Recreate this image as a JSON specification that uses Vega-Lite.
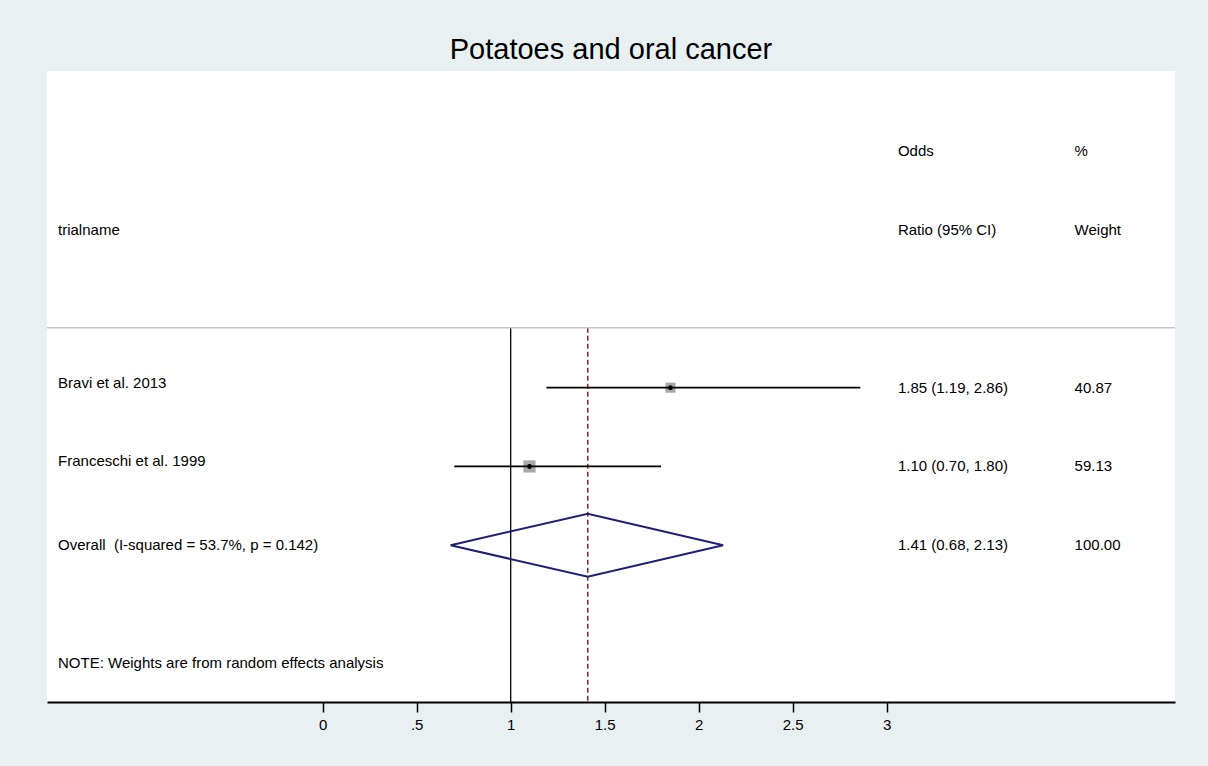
{
  "$schema": "https://vega.github.io/schema/vega-lite/v6.json",
  "autosize": "none",
  "width": 1128,
  "height": 631,
  "padding": {"left": 47, "top": 71, "right": 33, "bottom": 64},
  "background": "#e8f0f2",
  "title": {
    "text": "Potatoes and oral cancer",
    "font": "Liberation Sans",
    "fontSize": 29,
    "fontWeight": "normal",
    "color": "#000000",
    "anchor": "middle",
    "baseline": "alphabetic",
    "offset": 11,
    "dy": 28
  },
  "config": {
    "view": {"fill": "#ffffff", "stroke": null},
    "axis": {
      "domainColor": "#000000",
      "domainWidth": 2,
      "tickColor": "#000000",
      "tickWidth": 1.5,
      "tickSize": 10,
      "labelFont": "Liberation Sans",
      "labelFontSize": 15,
      "labelColor": "#000000",
      "labelPadding": 5,
      "grid": false
    },
    "text": {"font": "Liberation Sans", "fontSize": 15, "color": "#000000"}
  },
  "datasets": {
    "rows": [
      {"type": "study", "label": "Bravi et al. 2013", "or": 1.85, "lo": 1.19, "hi": 2.86, "weight": 40.87, "row": 4, "ci": "1.85 (1.19, 2.86)"},
      {"type": "study", "label": "Franceschi et al. 1999", "or": 1.10, "lo": 0.70, "hi": 1.80, "weight": 59.13, "row": 5, "ci": "1.10 (0.70, 1.80)"},
      {"type": "overall", "label": "Overall\u00a0 (I-squared = 53.7%, p = 0.142)", "or": 1.41, "lo": 0.68, "hi": 2.13, "weight": 100.00, "row": 6, "ci": "1.41 (0.68, 2.13)"}
    ],
    "headers": [
      {"col": "label", "row": 2, "text": "trialname"},
      {"col": "ci", "row": 1, "text": "Odds"},
      {"col": "ci", "row": 2, "text": "Ratio (95% CI)"},
      {"col": "wt", "row": 1, "text": "%"},
      {"col": "wt", "row": 2, "text": "Weight"},
      {"col": "label", "row": 7.5, "text": "NOTE: Weights are from random effects analysis"}
    ],
    "diamond": [
      {"v": 1, "x": 0.68, "row": 6},
      {"v": 2, "x": 1.41, "row": 5.6},
      {"v": 3, "x": 2.13, "row": 6},
      {"v": 4, "x": 1.41, "row": 6.4},
      {"v": 5, "x": 0.68, "row": 6}
    ],
    "refs": [
      {"kind": "null", "x": 1},
      {"kind": "pooled", "x": 1.41}
    ]
  },
  "layer": [
    {
      "data": {"name": "refs"},
      "transform": [{"filter": "datum.kind == 'null'"}],
      "mark": {"type": "rule", "color": "#000000", "strokeWidth": 1.3},
      "encoding": {
        "x": {"field": "x", "type": "quantitative", "title": null,
              "scale": {"domain": [-1.4667, 4.534], "nice": false, "zero": false},
              "axis": {"values": [0, 0.5, 1, 1.5, 2, 2.5, 3], "labelExpr": "datum.value == 0.5 ? '.5' : format(datum.value, '~g')", "title": null}},
        "y": {"datum": 3.24, "type": "quantitative", "scale": {"domain": [-0.02, 7.99], "nice": false, "zero": false, "reverse": true}, "axis": null},
        "y2": {"datum": 7.99}
      }
    },
    {
      "data": {"name": "refs"},
      "transform": [{"filter": "datum.kind == 'pooled'"}],
      "mark": {"type": "rule", "color": "#98202e", "strokeWidth": 1.5, "strokeDash": [5, 3]},
      "encoding": {
        "x": {"field": "x", "type": "quantitative", "title": null},
        "y": {"datum": 3.24, "type": "quantitative"},
        "y2": {"datum": 7.99}
      }
    },
    {
      "data": {"values": [{"row": 3.24}]},
      "mark": {"type": "rule", "color": "#c6c6c6", "strokeWidth": 1.5},
      "encoding": {
        "y": {"field": "row", "type": "quantitative"}
      }
    },
    {
      "data": {"name": "rows"},
      "transform": [{"filter": "datum.type == 'study'"}],
      "mark": {"type": "point", "shape": "square", "filled": true, "color": "#a8a8a8", "opacity": 1},
      "encoding": {
        "x": {"field": "or", "type": "quantitative", "title": null},
        "y": {"field": "row", "type": "quantitative"},
        "size": {"field": "weight", "type": "quantitative", "scale": {"domain": [0, 100], "range": [0, 250]}, "legend": null}
      }
    },
    {
      "data": {"name": "rows"},
      "transform": [{"filter": "datum.type == 'study'"}],
      "mark": {"type": "rule", "color": "#000000", "strokeWidth": 1.8},
      "encoding": {
        "x": {"field": "lo", "type": "quantitative", "title": null},
        "x2": {"field": "hi"},
        "y": {"field": "row", "type": "quantitative"}
      }
    },
    {
      "data": {"name": "rows"},
      "transform": [{"filter": "datum.type == 'study'"}],
      "mark": {"type": "point", "shape": "circle", "filled": true, "color": "#000000", "size": 24, "opacity": 1},
      "encoding": {
        "x": {"field": "or", "type": "quantitative", "title": null},
        "y": {"field": "row", "type": "quantitative"}
      }
    },
    {
      "data": {"name": "diamond"},
      "mark": {"type": "line", "color": "#1f1f7a", "strokeWidth": 2},
      "encoding": {
        "x": {"field": "x", "type": "quantitative", "title": null},
        "y": {"field": "row", "type": "quantitative"},
        "order": {"field": "v", "type": "quantitative"}
      }
    },
    {
      "data": {"name": "rows"},
      "transform": [{"filter": "datum.type == 'study'"}],
      "mark": {"type": "text", "align": "left", "baseline": "middle", "dy": -5},
      "encoding": {
        "x": {"datum": -1.408, "type": "quantitative"},
        "y": {"field": "row", "type": "quantitative"},
        "text": {"field": "label"}
      }
    },
    {
      "data": {"name": "rows"},
      "transform": [{"filter": "datum.type == 'overall'"}],
      "mark": {"type": "text", "align": "left", "baseline": "middle"},
      "encoding": {
        "x": {"datum": -1.408, "type": "quantitative"},
        "y": {"field": "row", "type": "quantitative"},
        "text": {"field": "label"}
      }
    },
    {
      "data": {"name": "rows"},
      "mark": {"type": "text", "align": "left", "baseline": "middle"},
      "encoding": {
        "x": {"datum": 3.06, "type": "quantitative"},
        "y": {"field": "row", "type": "quantitative"},
        "text": {"field": "ci"}
      }
    },
    {
      "data": {"name": "rows"},
      "mark": {"type": "text", "align": "left", "baseline": "middle"},
      "encoding": {
        "x": {"datum": 4.0, "type": "quantitative"},
        "y": {"field": "row", "type": "quantitative"},
        "text": {"field": "weight", "type": "quantitative", "format": ".2f"}
      }
    },
    {
      "data": {"name": "headers"},
      "transform": [{"filter": "datum.col == 'label'"}],
      "mark": {"type": "text", "align": "left", "baseline": "middle"},
      "encoding": {
        "x": {"datum": -1.408, "type": "quantitative"},
        "y": {"field": "row", "type": "quantitative"},
        "text": {"field": "text"}
      }
    },
    {
      "data": {"name": "headers"},
      "transform": [{"filter": "datum.col == 'ci'"}],
      "mark": {"type": "text", "align": "left", "baseline": "middle"},
      "encoding": {
        "x": {"datum": 3.06, "type": "quantitative"},
        "y": {"field": "row", "type": "quantitative"},
        "text": {"field": "text"}
      }
    },
    {
      "data": {"name": "headers"},
      "transform": [{"filter": "datum.col == 'wt'"}],
      "mark": {"type": "text", "align": "left", "baseline": "middle"},
      "encoding": {
        "x": {"datum": 4.0, "type": "quantitative"},
        "y": {"field": "row", "type": "quantitative"},
        "text": {"field": "text"}
      }
    }
  ]
}
